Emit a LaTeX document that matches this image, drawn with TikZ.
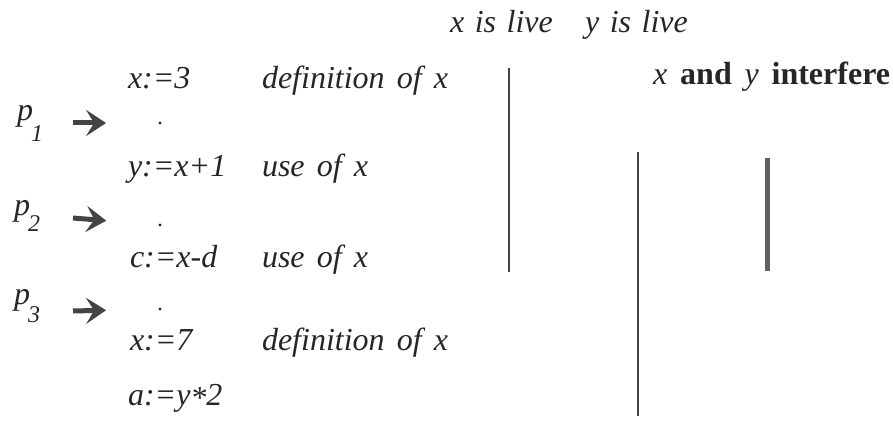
\documentclass[tikz,border=0pt]{standalone}
\usepackage{fontspec}
\setmainfont{Liberation Serif}
\usetikzlibrary{arrows.meta}
\definecolor{ink}{HTML}{262626}
\definecolor{bar}{HTML}{444444}
\tikzset{
  txt/.style={anchor=base west, inner sep=0pt, outer sep=0pt, text=ink, font=\fontsize{32}{36}\selectfont\itshape},
  plab/.style={anchor=base west, inner sep=0pt, text=ink, font=\fontsize{32}{36}\selectfont\itshape},
  sub/.style={anchor=base west, inner sep=0pt, text=ink, font=\fontsize{24}{28}\selectfont\itshape},
  pdot/.style={circle, fill=ink, inner sep=0pt, minimum size=3.4pt},
  parrow/.style={draw=bar, line width=5pt, -{Stealth[length=20pt, width=26pt, inset=8pt]}},
  live/.style={draw=bar, line width=#1},
}
\begin{document}
\begin{tikzpicture}[x=1pt, y=-1pt]
\useasboundingbox (0,0) rectangle (893,427);
% header
\node[txt] (hx) at (450,33) {x\hspace{0.33em}is\hspace{0.33em}live};
\node[txt] (hy) at (585,33) {y\hspace{0.33em}is\hspace{0.33em}live};
% statements
\node[txt] (s1) at (128,89) {x:=3};
\node[txt] (s2) at (128,177) {y:=x+1};
\node[txt] (s3) at (130,268) {c:=x-d};
\node[txt] (s4) at (130,350) {x:=7};
\node[txt] (s5) at (128,405) {a:=y\raisebox{-0.12em}{*}2};
% comments
\node[txt] (c1) at (262,89) {definition\hspace{0.38em}of\hspace{0.38em}x};
\node[txt] (c2) at (262,177) {use\hspace{0.38em}of\hspace{0.38em}x};
\node[txt] (c3) at (262,268) {use\hspace{0.38em}of\hspace{0.38em}x};
\node[txt] (c4) at (262,350) {definition\hspace{0.38em}of\hspace{0.38em}x};
% program points
\node[plab] (p1) at (17,121) {p};
\node[sub] (n1) at (31,142) {1};
\node[plab] (p2) at (14,216) {p};
\node[sub] (n2) at (28,232) {2};
\node[plab] (p3) at (14,304) {p};
\node[sub] (n3) at (28,322) {3};
\node[pdot] (d1) at (160,123) {};
\node[pdot] (d2) at (160,225) {};
\node[pdot] (d3) at (160,309) {};
\coordinate (a1) at (73,123);
\coordinate (a2) at (73,218);
\coordinate (a3) at (73,311);
\draw[parrow, shorten >=52pt] (a1) -- (d1);
\draw[parrow, shorten >=52pt] (a2) -- (d2);
\draw[parrow, shorten >=52pt] (a3) -- (d3);
% live ranges
\coordinate (xt) at (509,68);
\coordinate (xb) at (509,272);
\draw[live=2.4pt] (xt) -- (xb);
\coordinate (yt) at (638,152);
\coordinate (yb) at (638,416);
\draw[live=2.8pt] (yt) -- (yb);
\coordinate (it) at (767,158);
\coordinate (ib) at (767,271);
\draw[live=5pt, draw=bar!85] (it) -- (ib);
% interference
\node[anchor=base west, inner sep=0pt, text=ink, font=\fontsize{32}{36}\selectfont] (ix) at (653,85)
  {\textit{x}\hspace{0.4em}\textbf{and}\hspace{0.4em}\textit{y}\hspace{0.4em}\textbf{interfere}};
\end{tikzpicture}
\end{document}
